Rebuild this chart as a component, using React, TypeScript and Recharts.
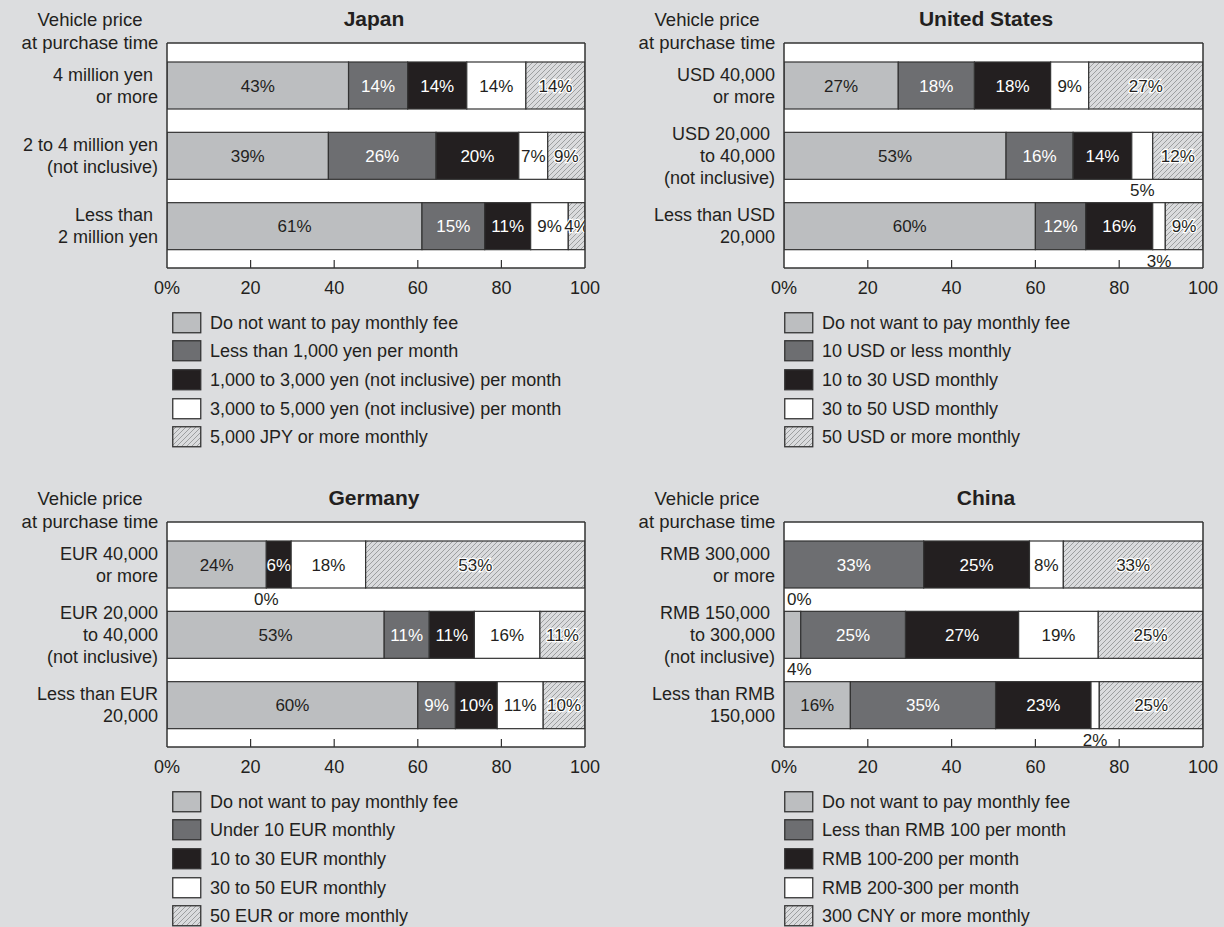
import React from 'react';
import { BarChart, Bar, XAxis, YAxis, CartesianGrid } from 'recharts';

const FONT = '"Liberation Sans", Arial, Helvetica, sans-serif';
const TEXT = '#231f20';
const PAGE_BG = '#dcdddf';
const FRAME = '#333333';

const seriesKeys = ['s0', 's1', 's2', 's3', 's4'];
const seriesColors = ['#bcbec0', '#6d6e71', '#231f20', '#ffffff', 'HATCH'];
const labelColors = [TEXT, '#ffffff', '#ffffff', TEXT, TEXT];

const tickValues = [0, 20, 40, 60, 80, 100];
const tickLabels = ['0%', '20', '40', '60', '80', '100'];
const headerLines = ['Vehicle price', 'at purchase time'];

// ---------- Japan ----------
const japanTitle = 'Japan';
const japanCategories = ['4 million yen\u00a0\nor more', '2 to 4 million yen\n(not inclusive)', 'Less than\u00a0\n2 million yen'];
const japanNone = [43, 39, 61];
const japanLow = [14, 26, 15];
const japanMid = [14, 20, 11];
const japanHigh = [14, 7, 9];
const japanTop = [14, 9, 4];
const japanLegend = [
  'Do not want to pay monthly fee',
  'Less than 1,000 yen per month',
  '1,000 to 3,000 yen (not inclusive) per month',
  '3,000 to 5,000 yen (not inclusive) per month',
  '5,000 JPY or more monthly',
];
const japanOutside: [number, number, string][] = [];

// ---------- United States ----------
const usTitle = 'United States';
const usCategories = ['USD 40,000\nor more', 'USD 20,000\u00a0\nto 40,000\n(not inclusive)', 'Less than USD\n20,000'];
const usNone = [27, 53, 60];
const usLow = [18, 16, 12];
const usMid = [18, 14, 16];
const usHigh = [9, 5, 3];
const usTop = [27, 12, 9];
const usLegend = [
  'Do not want to pay monthly fee',
  '10 USD or less monthly',
  '10 to 30 USD monthly',
  '30 to 50 USD monthly',
  '50 USD or more monthly',
];
const usOutside: [number, number, string][] = [[1, 3, 'center'], [2, 3, 'center']];

// ---------- Germany ----------
const germanyTitle = 'Germany';
const germanyCategories = ['EUR 40,000\nor more', 'EUR 20,000\nto 40,000\n(not inclusive)', 'Less than EUR\n20,000'];
const germanyNone = [24, 53, 60];
const germanyLow = [0, 11, 9];
const germanyMid = [6, 11, 10];
const germanyHigh = [18, 16, 11];
const germanyTop = [53, 11, 10];
const germanyLegend = [
  'Do not want to pay monthly fee',
  'Under 10 EUR monthly',
  '10 to 30 EUR monthly',
  '30 to 50 EUR monthly',
  '50 EUR or more monthly',
];
const germanyOutside: [number, number, string][] = [[0, 1, 'center']];

// ---------- China ----------
const chinaTitle = 'China';
const chinaCategories = ['RMB 300,000\u00a0\nor more', 'RMB 150,000\u00a0\nto 300,000\n(not inclusive)', 'Less than RMB\n150,000'];
const chinaNone = [0, 4, 16];
const chinaLow = [33, 25, 35];
const chinaMid = [25, 27, 23];
const chinaHigh = [8, 19, 2];
const chinaTop = [33, 25, 25];
const chinaLegend = [
  'Do not want to pay monthly fee',
  'Less than RMB 100 per month',
  'RMB 100-200 per month',
  'RMB 200-300 per month',
  '300 CNY or more monthly',
];
const chinaOutside: [number, number, string][] = [[0, 0, 'start'], [1, 0, 'start'], [2, 3, 'center']];

type PanelDef = {
  id: string;
  title: string;
  categories: string[];
  values: number[][];
  legend: string[];
  outside: [number, number, string][];
  left: number;
  top: number;
  plotLeft: number;
  plotRight: number;
};

const panels: PanelDef[] = [
  { id: 'jp', title: japanTitle, categories: japanCategories, values: [japanNone, japanLow, japanMid, japanHigh, japanTop], legend: japanLegend, outside: japanOutside, left: 0, top: 0, plotLeft: 167, plotRight: 585 },
  { id: 'us', title: usTitle, categories: usCategories, values: [usNone, usLow, usMid, usHigh, usTop], legend: usLegend, outside: usOutside, left: 612, top: 0, plotLeft: 172, plotRight: 591 },
  { id: 'de', title: germanyTitle, categories: germanyCategories, values: [germanyNone, germanyLow, germanyMid, germanyHigh, germanyTop], legend: germanyLegend, outside: germanyOutside, left: 0, top: 479, plotLeft: 167, plotRight: 585 },
  { id: 'cn', title: chinaTitle, categories: chinaCategories, values: [chinaNone, chinaLow, chinaMid, chinaHigh, chinaTop], legend: chinaLegend, outside: chinaOutside, left: 612, top: 479, plotLeft: 172, plotRight: 591 },
];

const CHART_W = 612;
const CHART_H = 310;
const PLOT_TOP = 43;
const PLOT_BOTTOM = 268;
const XAXIS_H = CHART_H - PLOT_BOTTOM;

const HatchPattern = ({ id }: { id: string }) => (
  <pattern id={id} patternUnits="userSpaceOnUse" width="5" height="5">
    <rect width="5" height="5" fill="#dadbdd" />
    <path d="M-1,1 L1,-1 M0,5 L5,0 M4,6 L6,4" stroke="#8e8f91" strokeWidth="0.8" />
  </pattern>
);

const fillFor = (i: number, hatchId: string) => (seriesColors[i] === 'HATCH' ? `url(#${hatchId})` : seriesColors[i]);

const Panel = ({ p }: { p: PanelDef }) => {
  const hatchId = `hatch-${p.id}`;
  const rows = p.categories.map((name, r) => {
    const row: any = { name };
    seriesKeys.forEach((k, s) => {
      row[k] = p.values[s][r];
    });
    return row;
  });

  const renderXTick = (props: any) => {
    const { x, payload } = props;
    const v = Math.round(Number(payload.value) * 100);
    const idx = tickValues.indexOf(v);
    const label = idx >= 0 ? tickLabels[idx] : String(v);
    return (
      <g>
        {v > 0 && v < 100 && <line x1={x} x2={x} y1={PLOT_BOTTOM - 8} y2={PLOT_BOTTOM} stroke={FRAME} strokeWidth={1.2} />}
        <text x={x} y={PLOT_BOTTOM + 20} dy="0.36em" textAnchor="middle" fontSize={18} fill={TEXT} fontFamily={FONT}>
          {label}
        </text>
      </g>
    );
  };

  const renderYTick = (props: any) => {
    const { y, payload } = props;
    const lines = String(payload.value).split('\n');
    const lh = 22;
    const startY = Number(y) - ((lines.length - 1) * lh) / 2;
    return (
      <text x={p.plotLeft - 9} y={startY} textAnchor="end" fontSize={18} fill={TEXT} fontFamily={FONT}>
        {lines.map((ln, i) => (
          <tspan key={i} x={p.plotLeft - 9} y={startY + i * lh} dy="0.36em">
            {ln}
          </tspan>
        ))}
      </text>
    );
  };

  const labelFor = (row: number, s: number, x: number, y: number, w: number, h: number) => {
    const value = p.values[s][row];
    const out = p.outside.find((o) => o[0] === row && o[1] === s);
    const text = `${value}%`;
    if (out) {
      const anchor = out[2] === 'start' ? 'start' : 'middle';
      const tx = out[2] === 'start' ? x + 3 : x + w / 2;
      return (
        <text key={`o${s}`} x={tx} y={y + h + 11} dy="0.36em" textAnchor={anchor} fontSize={17} fill={TEXT} fontFamily={FONT}>
          {text}
        </text>
      );
    }
    const isHatch = seriesColors[s] === 'HATCH';
    return (
      <text
        key={`i${s}`}
        x={x + w / 2}
        y={y + h / 2}
        dy="0.36em"
        textAnchor="middle"
        fontSize={17}
        fill={labelColors[s]}
        fontFamily={FONT}
        stroke={isHatch ? '#ffffff' : 'none'}
        strokeWidth={isHatch ? 2.5 : 0}
        style={{ paintOrder: 'stroke' }}
      >
        {text}
      </text>
    );
  };

  const makeShape = (s: number) => (props: any) => {
    const x = Number(props.x);
    const y = Number(props.y);
    const w = Number(props.width);
    const h = Number(props.height);
    const row = p.categories.indexOf(props.payload?.name);
    if (!isFinite(x) || !isFinite(y) || row < 0) return <g />;
    const value = p.values[s][row];
    const labels: any[] = [];
    // labels of preceding zero-valued segments are drawn at this segment's left edge
    for (let q = s - 1; q >= 0 && p.values[q][row] === 0; q--) {
      labels.push(labelFor(row, q, x, y, 0, h));
    }
    if (value !== 0) labels.push(labelFor(row, s, x, y, w, h));
    return (
      <g>
        {value !== 0 && w > 0 && (
          <rect x={x} y={y} width={w} height={h} fill={fillFor(s, hatchId)} stroke={FRAME} strokeWidth={1.2} />
        )}
        {labels}
      </g>
    );
  };

  const axisLine = { stroke: FRAME, strokeWidth: 1.5 };

  return (
    <div style={{ position: 'absolute', left: p.left, top: p.top, width: 612, height: 448 }}>
      {headerLines.map((t, i) => (
        <div
          key={i}
          style={{
            position: 'absolute',
            left: p.plotLeft - 77,
            top: i === 0 ? 20 : 43,
            transform: 'translate(-50%, -50%)',
            whiteSpace: 'nowrap',
            fontSize: 18.5,
            lineHeight: 1,
            color: TEXT,
            fontFamily: FONT,
          }}
        >
          {t}
        </div>
      ))}
      <div
        style={{
          position: 'absolute',
          left: 374,
          top: 18,
          transform: 'translate(-50%, -50%)',
          whiteSpace: 'nowrap',
          fontSize: 21,
          fontWeight: 'bold',
          lineHeight: 1,
          color: TEXT,
          fontFamily: FONT,
        }}
      >
        {p.title}
      </div>
      <div style={{ position: 'absolute', left: 0, top: 0 }}>
        <BarChart
          width={CHART_W}
          height={CHART_H}
          data={rows}
          layout="vertical"
          stackOffset="expand"
          margin={{ top: PLOT_TOP - 1, right: CHART_W - p.plotRight - 1, bottom: 0, left: p.plotLeft - 1 }}
        >
          <defs>
            <HatchPattern id={hatchId} />
          </defs>
          <CartesianGrid fill="#ffffff" stroke="none" />
          <XAxis
            type="number"
            domain={[0, 1]}
            ticks={tickValues.map((v) => v / 100)}
            interval={0}
            height={XAXIS_H}
            tickLine={false}
            axisLine={axisLine}
            tick={renderXTick}
            allowDataOverflow
          />
          <XAxis xAxisId="top" orientation="top" type="number" domain={[0, 1]} height={1} tick={false} tickLine={false} axisLine={axisLine} />
          <YAxis
            type="category"
            dataKey="name"
            width={1}
            padding={{ top: 7, bottom: 7 }}
            interval={0}
            tickLine={false}
            axisLine={axisLine}
            tick={renderYTick}
          />
          <YAxis yAxisId="right" orientation="right" type="category" dataKey="name" width={1} tick={false} tickLine={false} axisLine={axisLine} />
          {seriesKeys.map((k, s) => (
            <Bar
              key={k}
              dataKey={k}
              stackId="a"
              fill={fillFor(s, hatchId)}
              stroke={FRAME}
              strokeWidth={1.2}
              barSize={47}
              isAnimationActive={false}
              shape={makeShape(s)}
            />
          ))}
        </BarChart>
      </div>
      <div style={{ position: 'absolute', left: 172, top: 308.5 }}>
        {p.legend.map((t, i) => (
          <div key={i} style={{ display: 'flex', alignItems: 'center', height: 28.6 }}>
            <svg width={30} height={22} style={{ display: 'block' }}>
              <defs>
                <HatchPattern id={`${hatchId}-lg`} />
              </defs>
              <rect x={0.75} y={0.75} width={28} height={20} fill={fillFor(i, `${hatchId}-lg`)} stroke={FRAME} strokeWidth={1.3} />
            </svg>
            <span style={{ marginLeft: 8, fontSize: 18, color: TEXT, fontFamily: FONT, whiteSpace: 'nowrap', lineHeight: 1 }}>{t}</span>
          </div>
        ))}
      </div>
    </div>
  );
}

export default function App() {
  return (
    <div
      style={{
        position: 'absolute',
        left: 0,
        top: 0,
        width: 1224,
        height: 927,
        background: PAGE_BG,
        overflow: 'hidden',
        fontFamily: FONT,
      }}
    >
      {panels.map((p) => (
        <Panel key={p.id} p={p} />
      ))}
    </div>
  );
}
